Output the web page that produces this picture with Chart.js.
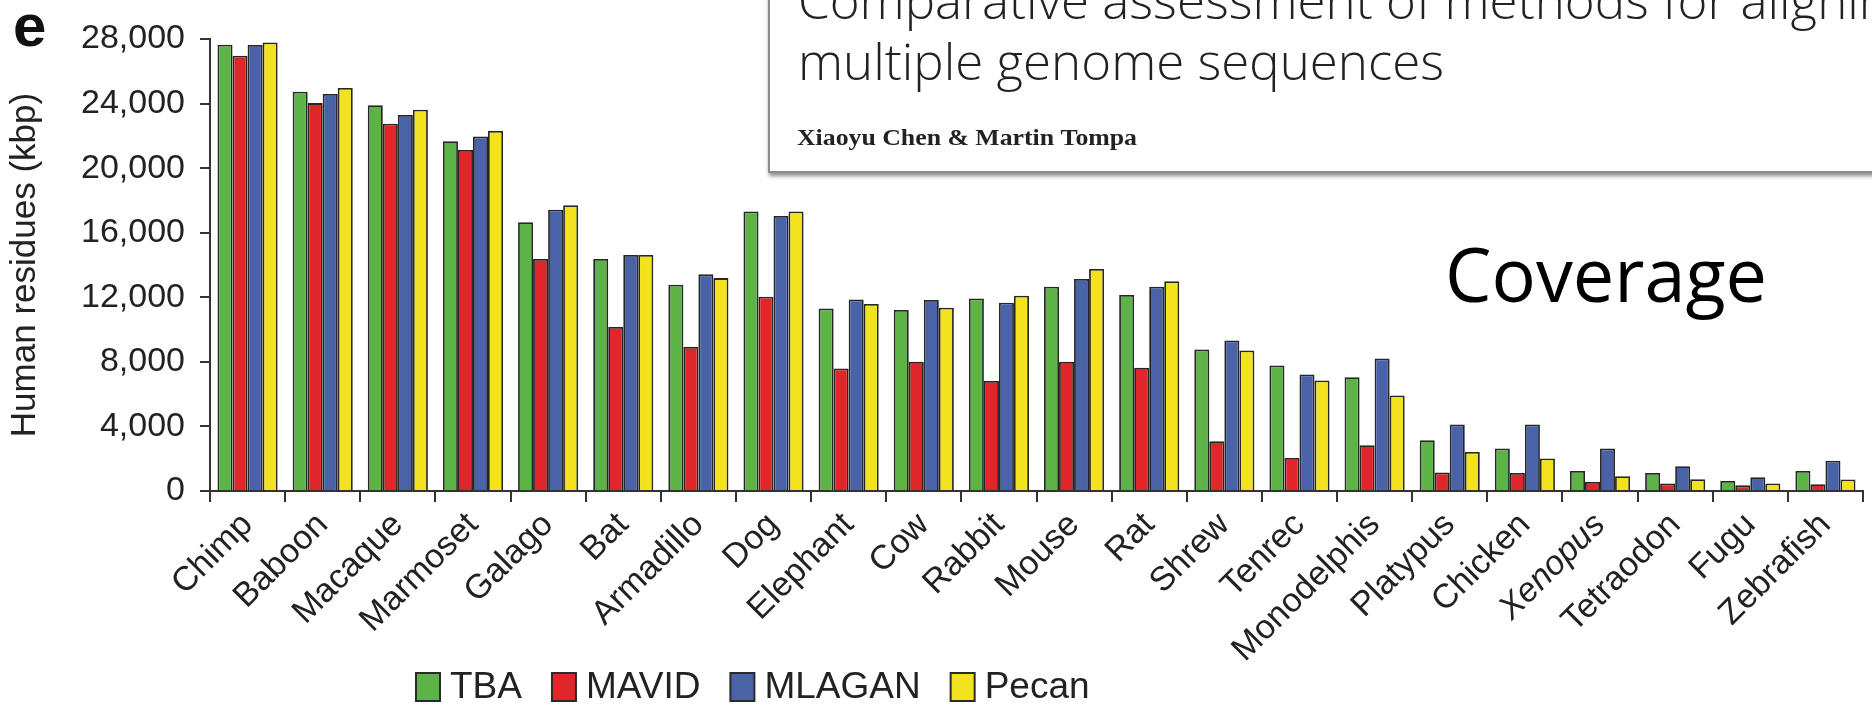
<!DOCTYPE html>
<html lang="en">
<head>
    <meta charset="UTF-8">
    <title>Coverage</title>
    <style>
        body {
            margin: 0;
            background: #fff;
        }

        #wrap {
            width: 1872px;
            height: 706px;
        }
    </style>
</head>
<body>
    <div id="wrap">
        <canvas id="coverageChart" width="1872" height="706"></canvas>
    </div>

    <script src="https://cdn.jsdelivr.net/npm/chart.js"></script>
    <script>
        // Species on the x axis
        const species = ['Chimp', 'Baboon', 'Macaque', 'Marmoset', 'Galago', 'Bat', 'Armadillo', 'Dog',
            'Elephant', 'Cow', 'Rabbit', 'Mouse', 'Rat', 'Shrew', 'Tenrec', 'Monodelphis',
            'Platypus', 'Chicken', 'Xenopus', 'Tetraodon', 'Fugu', 'Zebrafish'];

        // Human residues covered (kbp)
        const tba = [27650, 24730, 23900, 21670, 16650, 14370, 12780, 17310, 11310, 11210, 11930,
            12660, 12140, 8770, 7780, 7050, 3150, 2630, 1240, 1120, 620, 1240];
        const mavid = [26960, 24030, 22750, 21130, 14370, 10160, 8930, 12030, 7590, 8000, 6820,
            8000, 7630, 3080, 2050, 2830, 1140, 1120, 560, 460, 350, 420];
        const mlagan = [27630, 24590, 23290, 21960, 17430, 14620, 13420, 17040, 11870, 11830, 11660,
            13130, 12660, 9330, 7220, 8210, 4120, 4120, 2630, 1530, 850, 1880];
        const pecan = [27790, 24960, 23620, 22310, 17700, 14620, 13190, 17310, 11580, 11350, 12100,
            13750, 13000, 8710, 6850, 5920, 2420, 2010, 910, 730, 460, 720];

        const methods = ['TBA', 'MAVID', 'MLAGAN', 'Pecan'];
        const methodColors = ['#5db346', '#e0262b', '#4a62a8', '#f3e31f'];

        // y axis tick values
        const yTicks = [0, 4000, 8000, 12000, 16000, 20000, 24000, 28000];

        const sans = '"Liberation Sans", Arial, sans-serif';
        Chart.defaults.font.family = sans;
        Chart.defaults.color = '#222';

        // Panel letter, the paper title box, the "Coverage" note and the legend
        const decorations = {
            id: 'decorations',
            afterDraw(chart) {
                const ctx = chart.ctx;
                ctx.save();

                ctx.fillStyle = '#111';
                ctx.textBaseline = 'alphabetic';
                ctx.textAlign = 'left';
                ctx.font = 'bold 60px ' + sans;
                ctx.fillText('e', 13, 46);

                // title box with a drop shadow
                ctx.save();
                ctx.shadowColor = 'rgba(0,0,0,0.45)';
                ctx.shadowBlur = 4;
                ctx.shadowOffsetX = 1;
                ctx.shadowOffsetY = 3;
                ctx.fillStyle = '#fff';
                ctx.fillRect(768, -20, 1200, 193);
                ctx.restore();
                ctx.strokeStyle = '#8c8c8c';
                ctx.lineWidth = 2;
                ctx.strokeRect(769, -20, 1200, 192);

                ctx.fillStyle = '#222';
                ctx.font = '300 50px "Open Sans", sans-serif';
                const sx = 646 / ctx.measureText('multiple genome sequences').width;
                ctx.save();
                ctx.translate(798, 19);
                ctx.scale(sx, 1);
                ctx.fillText('Comparative assessment of methods for aligning', 0, 0);
                ctx.restore();
                ctx.save();
                ctx.translate(798, 80);
                ctx.scale(sx, 1);
                ctx.fillText('multiple genome sequences', 0, 0);
                ctx.restore();

                ctx.font = 'bold 24px "Liberation Serif", serif';
                const authors = 'Xiaoyu Chen & Martin Tompa';
                const sa = 340 / ctx.measureText(authors).width;
                ctx.save();
                ctx.translate(797, 145);
                ctx.scale(sa, 1);
                ctx.fillText(authors, 0, 0);
                ctx.restore();

                ctx.fillStyle = '#000';
                ctx.font = '75px "Open Sans", sans-serif';
                const sc = 322 / ctx.measureText('Coverage').width;
                ctx.save();
                ctx.translate(1445, 302);
                ctx.scale(sc, 1);
                ctx.fillText('Coverage', 0, 0);
                ctx.restore();

                // legend
                ctx.font = '37px ' + sans;
                ctx.textBaseline = 'middle';
                let x = 416;
                chart.data.datasets.forEach(ds => {
                    ctx.fillStyle = ds.backgroundColor;
                    ctx.fillRect(x, 673, 24, 28);
                    ctx.strokeStyle = '#2a2a2a';
                    ctx.lineWidth = 2;
                    ctx.strokeRect(x, 673, 24, 28);
                    ctx.fillStyle = '#222';
                    ctx.fillText(ds.label, x + 34, 688);
                    x += 34 + ctx.measureText(ds.label).width + 30;
                });

                ctx.restore();
            }
        };

        const seriesValues = [tba, mavid, mlagan, pecan];

        new Chart(document.getElementById('coverageChart'), {
            type: 'bar',
            data: {
                labels: species,
                datasets: methods.map((m, i) => ({
                    label: m,
                    data: seriesValues[i],
                    backgroundColor: methodColors[i],
                    borderColor: '#262626',
                    borderWidth: 1.8,
                    categoryPercentage: 0.8,
                    barPercentage: 1.0
                }))
            },
            options: {
                responsive: false,
                animation: false,
                layout: {
                    padding: { top: 39, right: 9, left: 0, bottom: 0 }
                },
                plugins: {
                    legend: { display: false },
                    tooltip: { enabled: false }
                },
                scales: {
                    x: {
                        afterFit(scale) { scale.height = 215; },
                        grid: {
                            offset: true,
                            drawOnChartArea: false,
                            drawTicks: true,
                            tickLength: 11,
                            color: '#333',
                            lineWidth: 2
                        },
                        border: { display: true, color: '#333', width: 2 },
                        ticks: {
                            autoSkip: false,
                            minRotation: 45,
                            maxRotation: 45,
                            padding: 3,
                            color: '#222',
                            font: (c) => ({
                                size: 34,
                                family: sans,
                                style: species[c.index] === 'Xenopus' ? 'italic' : 'normal'
                            })
                        }
                    },
                    y: {
                        min: 0,
                        max: 28000,
                        afterFit(scale) { scale.width = 210; },
                        afterBuildTicks(scale) { scale.ticks = yTicks.map(v => ({ value: v })); },
                        grid: {
                            drawOnChartArea: false,
                            drawTicks: true,
                            tickLength: 10,
                            color: '#333',
                            lineWidth: 2
                        },
                        border: { display: true, color: '#333', width: 2 },
                        ticks: {
                            padding: 15,
                            color: '#222',
                            font: { size: 34 }
                        },
                        title: {
                            display: true,
                            text: 'Human residues (kbp)',
                            color: '#222',
                            font: { size: 35 },
                            padding: { top: 4, bottom: 0 }
                        }
                    }
                }
            },
            plugins: [decorations]
        });
    </script>
</body>
</html>
